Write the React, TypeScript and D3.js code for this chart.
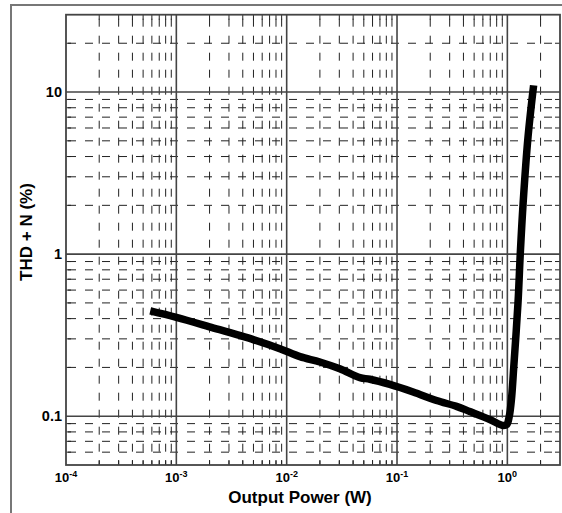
import React from 'react';
import * as d3 from 'd3';

// THD+N vs output power
const powerW = [0.00058, 0.001, 0.002, 0.00505, 0.00867, 0.0132, 0.02, 0.0303, 0.0461, 0.0568, 0.0861, 0.14, 0.228, 0.346, 0.456, 0.693, 0.908, 0.988, 1.04, 1.09, 1.14, 1.25, 1.31, 1.39, 1.54, 1.73];
const thdPct = [0.446, 0.407, 0.356, 0.296, 0.261, 0.233, 0.216, 0.196, 0.173, 0.169, 0.157, 0.141, 0.125, 0.115, 0.107, 0.0955, 0.0877, 0.089, 0.0996, 0.128, 0.196, 0.506, 1.01, 2.07, 5.3, 11.0];

const xExponents = [-4, -3, -2, -1, 0];
const yTickLabels = ['0.1', '1', '10'];
const yTickValues = [0.1, 1, 10];

const W = 562;
const H = 513;
const left = 66;
const right = 560;
const top = 14.7;
const bottom = 465;

const FONT = 'Liberation Sans, Arial, Helvetica, sans-serif';

const App = () => {
  const x = d3.scaleLog().domain([1e-4, 3]).range([left, right]);
  const y = d3.scaleLog().domain([0.05, 30]).range([bottom, top]);

  // minor/major grid positions from the scales
  const xMinor: number[] = [];
  const xMajor: number[] = [];
  for (let d = -4; d <= 0; d++) {
    for (let k = 1; k <= 9; k++) {
      const v = k * Math.pow(10, d);
      if (v <= 1e-4 * 1.001 || v >= 3 * 0.999) continue;
      if (k === 1) xMajor.push(v);
      else xMinor.push(v);
    }
  }
  const yMinor: number[] = [];
  const yMajor: number[] = [];
  for (let d = -2; d <= 1; d++) {
    for (let k = 1; k <= 9; k++) {
      const v = k * Math.pow(10, d);
      if (v <= 0.05 * 1.001 || v >= 30 * 0.999) continue;
      if (k === 1) yMajor.push(v);
      else yMinor.push(v);
    }
  }

  const pts = powerW.map((p, i) => [x(p), y(thdPct[i])] as [number, number]);
  const curve = d3.line().curve(d3.curveCatmullRom.alpha(0.5))(pts) || '';

  const gridColor = '#222';
  const majorColor = '#444';
  const tickLen = 5;

  return (
    <svg width={W} height={H} style={{ position: 'absolute', left: 0, top: 0, background: '#fff' }}>
      {/* outer frame */}
      <rect x={11} y={5} width={W + 20} height={H + 20} fill="none" stroke="#777" strokeWidth={2} />

      {/* minor grid */}
      {xMinor.map((v) => (
        <line key={'xm' + v} x1={x(v)} x2={x(v)} y1={top} y2={bottom} stroke={gridColor} strokeWidth={1} strokeDasharray="8,9" strokeDashoffset={-4} />
      ))}
      {yMinor.map((v) => (
        <line key={'ym' + v} x1={left} x2={right} y1={y(v)} y2={y(v)} stroke={gridColor} strokeWidth={1} strokeDasharray="8,9" strokeDashoffset={-2} />
      ))}

      {/* major grid */}
      {xMajor.map((v) => (
        <line key={'xM' + v} x1={x(v)} x2={x(v)} y1={top} y2={bottom} stroke={majorColor} strokeWidth={1.6} />
      ))}
      {yMajor.map((v) => (
        <line key={'yM' + v} x1={left} x2={right} y1={y(v)} y2={y(v)} stroke={majorColor} strokeWidth={1.6} />
      ))}

      {/* inward ticks */}
      {xMinor.map((v) => (
        <g key={'xt' + v} stroke={gridColor} strokeWidth={1}>
          <line x1={x(v)} x2={x(v)} y1={bottom} y2={bottom - tickLen} />
          <line x1={x(v)} x2={x(v)} y1={top} y2={top + tickLen} />
        </g>
      ))}
      {yMinor.map((v) => (
        <g key={'yt' + v} stroke={gridColor} strokeWidth={1}>
          <line x1={left} x2={left + tickLen} y1={y(v)} y2={y(v)} />
          <line x1={right} x2={right - tickLen} y1={y(v)} y2={y(v)} />
        </g>
      ))}

      {/* plot frame */}
      <rect x={left} y={top} width={right - left} height={bottom - top} fill="none" stroke={majorColor} strokeWidth={1.8} />

      {/* curve */}
      <path d={curve} fill="none" stroke="#000" strokeWidth={7.5} strokeLinejoin="round" strokeLinecap="butt" />

      {/* x tick labels */}
      {xExponents.map((e) => (
        <text key={'xl' + e} x={x(Math.pow(10, e))} y={481.5} textAnchor="middle" fontFamily={FONT} fontWeight="bold" fontSize={13} fill="#000">
          10<tspan fontSize={9} dy={-5}>{e}</tspan>
        </text>
      ))}

      {/* y tick labels */}
      {yTickLabels.map((t, i) => (
        <text key={'yl' + t} x={62} y={y(yTickValues[i]) + 5} textAnchor="end" fontFamily={FONT} fontWeight="bold" fontSize={14.5} fill="#000">
          {t}
        </text>
      ))}

      {/* axis titles */}
      <text x={300} y={503} textAnchor="middle" fontFamily={FONT} fontWeight="bold" fontSize={17} fill="#000">
        Output Power (W)
      </text>
      <text transform="translate(32,232) rotate(-90)" textAnchor="middle" fontFamily={FONT} fontWeight="bold" fontSize={17} fill="#000">
        THD + N (%)
      </text>
    </svg>
  );
};

export default App;
